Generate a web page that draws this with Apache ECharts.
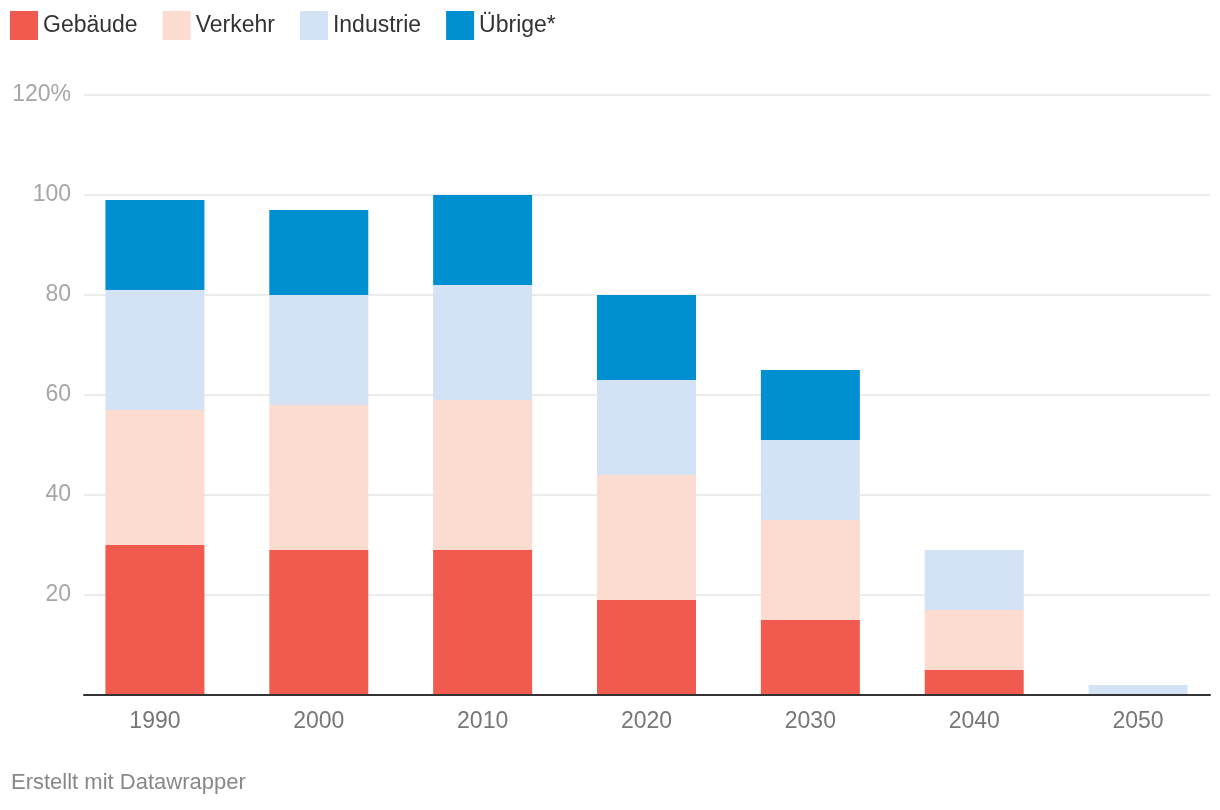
<!DOCTYPE html>
<html>
<head>
<meta charset="utf-8">
<script src="https://cdn.jsdelivr.net/npm/echarts@6/dist/echarts.min.js"></script>
<style>
html,body{margin:0;padding:0;background:#fff;}
#chart{width:1220px;height:810px;}
</style>
</head>
<body>
<div id="chart"></div>
<script>
const categories = ['1990','2000','2010','2020','2030','2040','2050'];
const gebaeude  = [30, 29, 29, 19, 15, 5, 0];
const verkehr   = [27, 29, 30, 25, 20, 12, 0];
const industrie = [24, 22, 23, 19, 16, 12, 2];
const uebrige   = [18, 17, 18, 17, 14, 0, 0];
const yTicks = [0, 20, 40, 60, 80, 100, 120];

const FONT = '"Liberation Sans", Arial, Helvetica, sans-serif';
const chart = echarts.init(document.getElementById('chart'), null, {renderer:'canvas'});

function mk(name, data, color){
  return {name, type:'bar', stack:'a', data, xAxisIndex:1, yAxisIndex:1,
    barWidth:99, itemStyle:{color}, emphasis:{disabled:true}};
}

chart.setOption({
  animation:false,
  textStyle:{fontFamily:FONT},
  legend:{
    left:10, top:11, padding:0, icon:'rect', itemWidth:28, itemHeight:29, itemGap:25,
    textStyle:{fontSize:23, color:'#333', fontFamily:FONT},
    selectedMode:false,
    data:['Gebäude','Verkehr','Industrie','Übrige*']
  },
  graphic:[{type:'text', left:11, top:772,
    style:{text:'Erstellt mit Datawrapper', fontSize:22, fill:'#888', fontFamily:FONT}}],
  grid:[
    {left:84, right:10, top:95, height:600},
    {left:73, width:1148, top:95, height:600}
  ],
  xAxis:[
    {type:'category', gridIndex:0, data:categories, axisLine:{show:true, lineStyle:{color:'#333', width:2}},
     axisTick:{show:false}, axisLabel:{show:false}, splitLine:{show:false}, z:10},
    {type:'category', gridIndex:1, data:categories, axisLine:{show:false}, axisTick:{show:false},
     axisLabel:{fontSize:23, color:'#777', margin:15, fontFamily:FONT}}
  ],
  yAxis:[
    {type:'value', gridIndex:0, min:yTicks[0], max:yTicks[yTicks.length-1], interval:20,
     axisLine:{show:false}, axisTick:{show:false},
     splitLine:{lineStyle:{color:'#e6e6e6', width:1.5}},
     axisLabel:{fontSize:23, color:'#a6a6a6', margin:13, fontFamily:FONT,
       formatter:v => v===0 ? '' : (v===120 ? '120%' : String(v))}},
    {type:'value', gridIndex:1, min:0, max:120, interval:20, show:false, splitLine:{show:false}}
  ],
  series:[
    mk('Gebäude', gebaeude, '#f15b4f'),
    mk('Verkehr', verkehr, '#fcdbd0'),
    mk('Industrie', industrie, '#d3e2f4'),
    mk('Übrige*', uebrige, '#008fd0')
  ]
});
</script>
</body>
</html>
